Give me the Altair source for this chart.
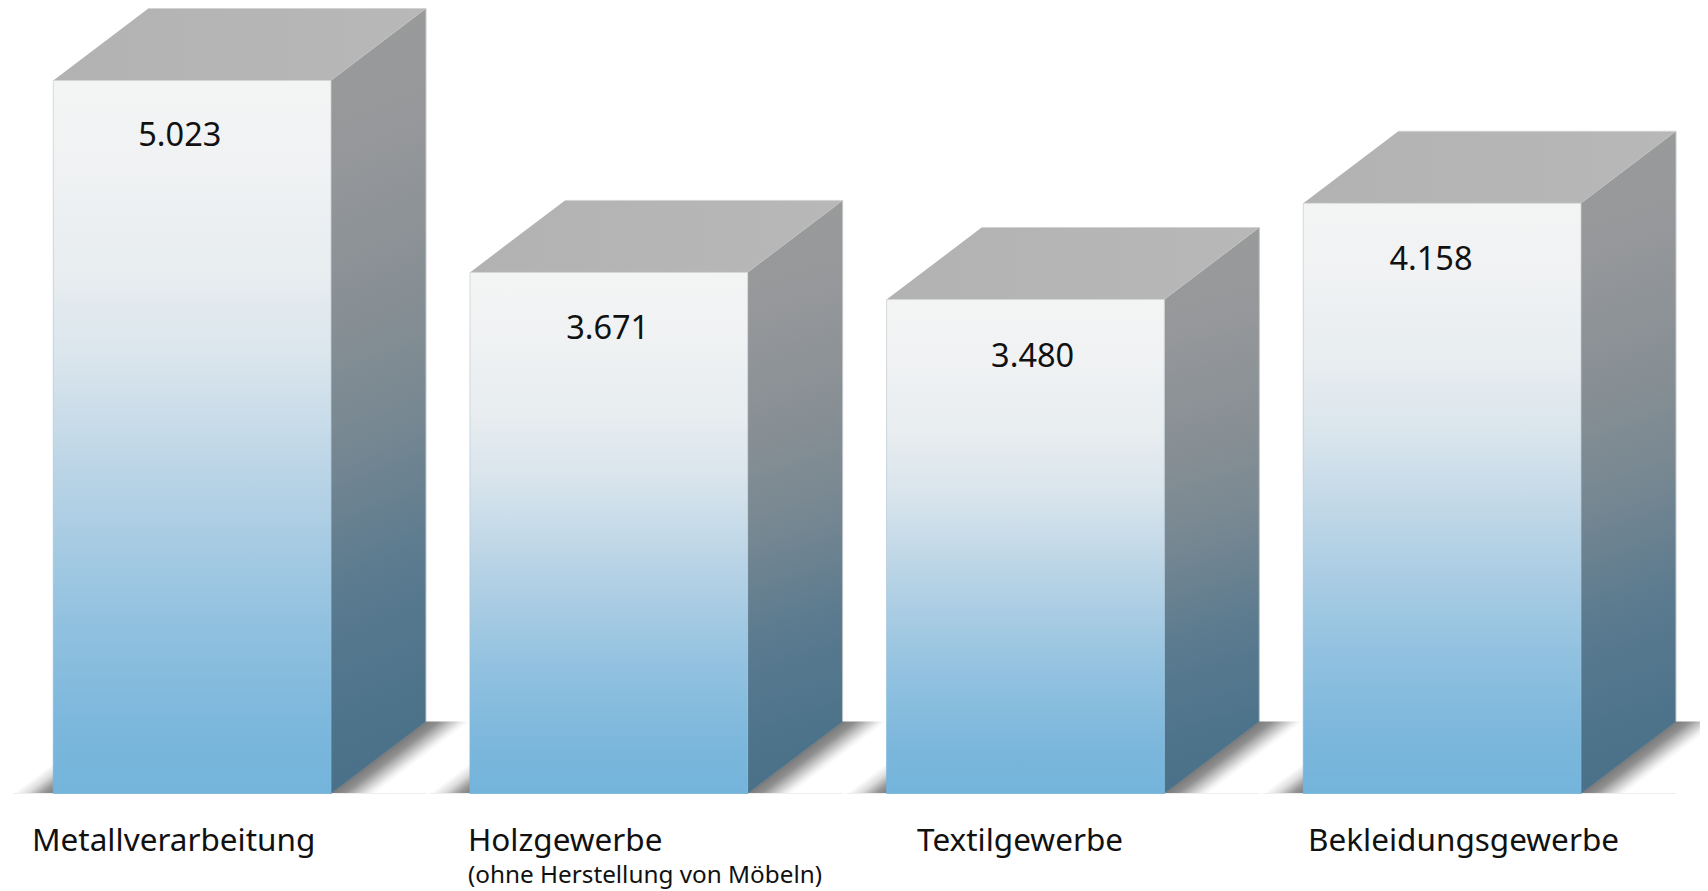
import altair as alt
import pandas as pd

# ---- data ----
categories = ["Metallverarbeitung", "Holzgewerbe", "Textilgewerbe", "Bekleidungsgewerbe"]
values = [5023, 3671, 3480, 4158]
value_labels = ["5.023", "3.671", "3.480", "4.158"]
sub_labels = ["(ohne Herstellung von Möbeln)"]

# ---- layout (scale units: one slot per bar, y in data units) ----
SLOT_PX = 416.67
PX_PER_VALUE = 0.1419
BAR_W = 277.7 / SLOT_PX
DEPTH_X = 95 / SLOT_PX
DEPTH_Y = 72 / PX_PER_VALUE
SHADOW_R = 44
SHADOW_L = 40
slots = [0, 1, 2, 3]
value_label_dx = [126.5, 137.7, 146.0, 127.7]
value_label_dy = [65.6, 66.7, 67.8, 66.7]
cat_label_dx = [-21.3, -2.0, 30.5, 4.7]
sub_label_dx = [-2.0]
FONT = "Noto Sans"

x_scale = alt.Scale(domain=[-0.1087, 3.9521], range=[0, 1692], nice=False, zero=False)
y_scale = alt.Scale(domain=[-687, 5534], range=[883, 0], nice=False, zero=False)
X = lambda f: alt.X(f, type="quantitative", scale=x_scale, axis=None)
X2 = lambda f: alt.X2(f)
Y = lambda f: alt.Y(f, type="quantitative", scale=y_scale, axis=None)
Y2 = lambda f: alt.Y2(f)


def stops(pairs):
    return [alt.GradientStop(offset=o, color=c) for o, c in pairs]


def slanted_gradient(band_px, pairs, dark_right=False):
    """Gradient across a slanted band, in the shape's own bounding box."""
    w = 95 + band_px
    cx = 95 / w
    ex = band_px / w
    nx, ny = 1.0, cx
    t = ex * nx / (nx * nx + ny * ny)
    if dark_right:
        return alt.LinearGradient(gradient="linear", stops=stops(pairs),
                                  x1=ex, y1=1, x2=ex - t * nx, y2=1 - t * ny)
    return alt.LinearGradient(gradient="linear", stops=stops(pairs),
                              x1=0, y1=1, x2=t * nx, y2=1 + t * ny)


front_grad = alt.LinearGradient(gradient="linear", x1=0, y1=0, x2=0, y2=1, stops=stops([
    (0, "#f3f4f4"), (0.12, "#f0f2f3"), (0.27, "#e8edf0"), (0.4, "#d8e4ec"),
    (0.55, "#bad4e6"), (0.75, "#93c2e0"), (0.9, "#7cb7dc"), (1, "#74b4db")]))
front_edge = alt.LinearGradient(gradient="linear", x1=0, y1=0, x2=0, y2=1, stops=stops([
    (0, "#d0d0d0"), (0.5, "#b5cbdb"), (1, "#74b4db")]))
side_grad = alt.LinearGradient(gradient="linear", x1=0, y1=0, x2=0.05, y2=1, stops=stops([
    (0.05, "#999a9a"), (0.2, "#95979a"), (0.4, "#878f94"), (0.55, "#788892"),
    (0.75, "#5a7a8f"), (0.9, "#4e748b"), (1, "#4a7189")]))
top_grad = alt.LinearGradient(gradient="linear", x1=0, y1=0, x2=1, y2=0, stops=stops([
    (0, "#b2b2b2"), (1, "#b8b8b8")]))
shadow_r_grad = slanted_gradient(SHADOW_R, [
    (0, "#7a7a7a"), (0.3, "#909090"), (0.6, "#c6c6c6"), (0.85, "#f0f0f0"), (1, "#ffffff")])
shadow_l_grad = slanted_gradient(SHADOW_L, [
    (0, "#7a7a7a"), (0.3, "#9a9a9a"), (0.65, "#dcdcdc"), (1, "#ffffff")], dark_right=True)

# ---- tables built from the arrays ----
bars = pd.DataFrame({
    "cat": categories, "v": values, "zero": 0, "label": value_labels,
    "x0": slots, "x1": [s + BAR_W for s in slots],
    "xb": [s + BAR_W + DEPTH_X for s in slots],
    "xtl": [s + DEPTH_X for s in slots],
    "vb": [v + DEPTH_Y for v in values], "base": DEPTH_Y,
    "vx": [s + d / SLOT_PX for s, d in zip(slots, value_label_dx)],
    "vy": [v - d / PX_PER_VALUE for v, d in zip(values, value_label_dy)],
    "cx": [s + d / SLOT_PX for s, d in zip(slots, cat_label_dx)],
    "sl0": [s - SHADOW_L / SLOT_PX for s in slots],
})
sub = pd.DataFrame({"t": sub_labels, "zero": [0],
                    "x": [slots[1] + sub_label_dx[0] / SLOT_PX]})


def rows(fn):
    return pd.DataFrame([r for i in range(len(values)) for r in fn(i)])


side = rows(lambda i: [
    {"cat": categories[i], "x": bars.x1[i], "y": values[i], "y2": 0},
    {"cat": categories[i], "x": bars.xb[i], "y": values[i] + DEPTH_Y, "y2": DEPTH_Y}])
top = rows(lambda i: [
    {"cat": categories[i], "y": values[i], "x": bars.x0[i], "x2": bars.x1[i]},
    {"cat": categories[i], "y": values[i] + DEPTH_Y, "x": bars.xtl[i], "x2": bars.xb[i]}])
shadow_r = rows(lambda i: [
    {"cat": categories[i], "y": 0, "x": bars.x1[i], "x2": bars.x1[i] + SHADOW_R / SLOT_PX},
    {"cat": categories[i], "y": DEPTH_Y, "x": bars.xb[i], "x2": bars.xb[i] + SHADOW_R / SLOT_PX}])
shadow_l = rows(lambda i: [
    {"cat": categories[i], "y": 0, "x": bars.sl0[i], "x2": bars.x0[i]},
    {"cat": categories[i], "y": DEPTH_Y, "x": bars.sl0[i] + DEPTH_X, "x2": bars.x0[i] + DEPTH_X}])


def hband(df, fill):
    return alt.Chart(df).mark_area(orient="horizontal", fill=fill, clip=True).encode(
        y=Y("y"), x=X("x"), x2=X2("x2"), detail="cat:N")


layers = [
    hband(shadow_r, shadow_r_grad),
    hband(shadow_l, shadow_l_grad),
    alt.Chart(bars).mark_rule(color="#eeeeee", strokeWidth=1, clip=True).encode(
        x=X("sl0"), x2=X2("xb"), y=Y("zero")),
    alt.Chart(side).mark_area(orient="vertical", fill=side_grad).encode(
        x=X("x"), y=Y("y"), y2=Y2("y2"), detail="cat:N"),
    hband(top, top_grad),
    alt.Chart(bars).mark_rule(color="#d2d2d2", strokeWidth=1).encode(
        x=X("xtl"), x2=X2("xb"), y=Y("vb")),
    alt.Chart(bars).mark_rule(color="#c4c6c8", strokeWidth=1).encode(
        x=X("xb"), y=Y("vb"), y2=Y2("base")),
    alt.Chart(bars).mark_rule(color="#4d6a7e", strokeWidth=0.6).encode(
        x=X("x1"), x2=X2("xb"), y=Y("zero"), y2=Y2("base")),
    alt.Chart(bars).mark_bar(fill=front_grad, stroke=front_edge, strokeWidth=0.8).encode(
        x=X("x0"), x2=X2("x1"), y=Y("v"), y2=Y2("zero")),
    alt.Chart(bars).mark_text(font=FONT, fontSize=32.5, color="#111111", align="center",
                              baseline="alphabetic").encode(
        x=X("vx"), y=Y("vy"), text="label:N"),
    alt.Chart(bars).mark_text(font=FONT, fontSize=31.5, color="#111111", align="left",
                              baseline="alphabetic", dy=57.4).encode(
        x=X("cx"), y=Y("zero"), text="cat:N"),
    alt.Chart(sub).mark_text(font=FONT, fontSize=24.3, color="#111111", align="left",
                             baseline="alphabetic", dy=90).encode(
        x=X("x"), y=Y("zero"), text="t:N"),
]

chart = alt.layer(*layers).properties(
    width=1692, height=883, padding=0,
    autosize=alt.AutoSizeParams(type="none"),
).configure_view(stroke=None)

chart.save("out.html", embed_options={"renderer": "svg", "actions": False})
